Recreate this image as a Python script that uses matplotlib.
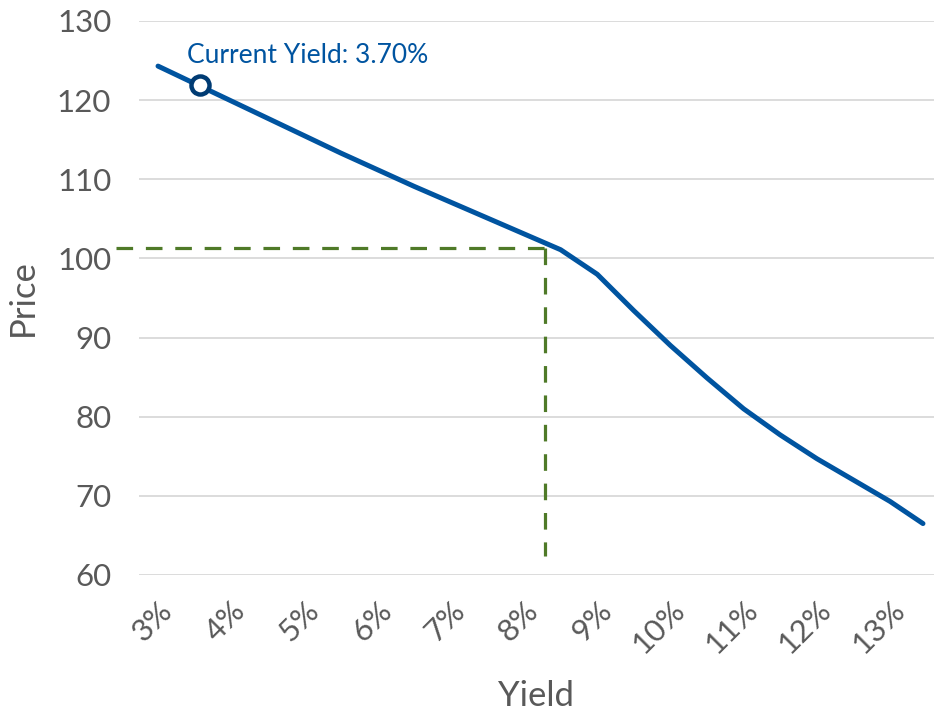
import numpy as np
import matplotlib.pyplot as plt

plt.rcParams['font.family'] = ['Lato', 'DejaVu Sans']

# price / yield curve
yields = [3.0, 3.5, 4.0, 4.5, 5.0, 5.5, 6.0, 6.5, 7.0, 7.5, 8.0, 8.5,
          9.0, 9.5, 10.0, 10.5, 11.0, 11.5, 12.0, 12.5, 13.0, 13.45]
prices = [124.3, 122.1, 119.9, 117.7, 115.5, 113.3, 111.2, 109.1, 107.1, 105.1, 103.1, 101.1,
          98.0, 93.4, 89.0, 84.9, 81.0, 77.7, 74.7, 72.0, 69.3, 66.5]

# current yield marker
current_yield = 3.57
current_price = 121.9
current_label = 'Current Yield: 3.70%'

# dashed guide lines
guide_yield = 8.29
guide_price = 101.3
guide_left = 2.42
guide_bottom = 62.4

xticks = [3, 4, 5, 6, 7, 8, 9, 10, 11, 12, 13]
xticklabels = ['3%', '4%', '5%', '6%', '7%', '8%', '9%', '10%', '11%', '12%', '13%']
yticks = [60, 70, 80, 90, 100, 110, 120, 130]

blue = '#0054A0'
navy = '#003B73'
green = '#4F7A28'
gray = '#595959'

fig = plt.figure(figsize=(9.34, 7.13), dpi=100)
ax = fig.add_axes([139 / 934, 1 - 575 / 713, 1 - 139 / 934, (575 - 21) / 713])

ax.grid(axis='y', color='#D9D9D9', linewidth=1.3)
ax.set_axisbelow(True)

# guides
ax.plot([guide_left, guide_yield], [guide_price, guide_price], color=green,
        linewidth=2.3, dashes=(5.2, 4.0), clip_on=False, zorder=2)
ax.plot([guide_yield, guide_yield], [guide_price, guide_bottom], color=green,
        linewidth=2.3, dashes=(5.2, 4.0), clip_on=False, zorder=2)

# curve
ax.plot(yields, prices, color=blue, linewidth=3.6, solid_capstyle='round',
        solid_joinstyle='round', zorder=3, clip_on=False)

# marker + label
ax.plot([current_yield], [current_price], marker='o', markersize=13, markerfacecolor='white',
        markeredgecolor=navy, markeredgewidth=3.2, zorder=4, clip_on=False)
ax.text(current_yield - 0.17, current_price + 3.75, current_label, color=blue,
        fontsize=19, va='center', ha='left')

ax.set_xlim(2.74, 2.74 + (934 - 139) / 73.2)
ax.set_ylim(60, 130)
ax.set_xticks(xticks)
ax.set_xticklabels(xticklabels, rotation=45, ha='right', va='top', rotation_mode='anchor')
ax.set_yticks(yticks)

for s in ax.spines.values():
    s.set_visible(False)
ax.tick_params(axis='both', length=0, labelsize=22.5, colors=gray)
ax.tick_params(axis='y', pad=20)
ax.tick_params(axis='x', pad=15)

ax.set_xlabel('Yield', fontsize=25, color=gray, labelpad=15)
ax.set_ylabel('Price', fontsize=25, color=gray, labelpad=13)

fig.savefig('out.png', dpi=100)
